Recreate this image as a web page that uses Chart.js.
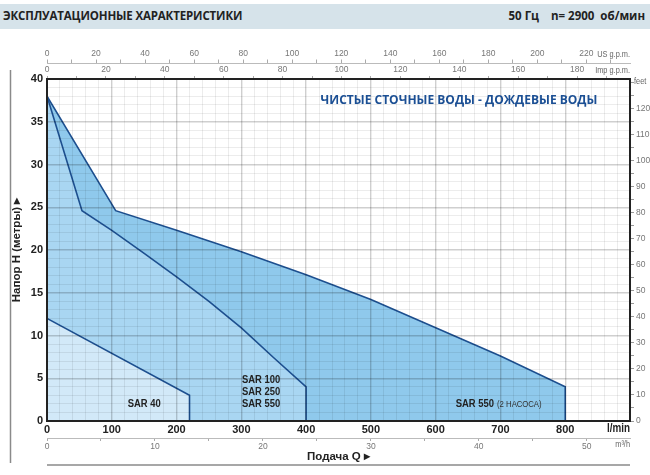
<!DOCTYPE html>
<html><head><meta charset="utf-8">
<script src="https://cdn.jsdelivr.net/npm/chart.js@4.4.1/dist/chart.umd.min.js"></script>
<style>
html,body{margin:0;padding:0;background:#fff;width:650px;height:475px;overflow:hidden;}
#hdr{position:absolute;left:0;top:4px;width:650px;height:25px;background:#d6e3ea;font-family:'Open Sans',sans-serif;font-weight:700;font-size:11.5px;color:#222;}
#hdr .l{position:absolute;left:3px;top:4px;white-space:pre;letter-spacing:-0.15px;}
#hdr .r{position:absolute;right:5px;top:4px;white-space:pre;}
#wrap{position:absolute;left:0;top:0;width:650px;height:475px;}
</style></head><body>
<div id="hdr"><span class="l">ЭКСПЛУАТАЦИОННЫЕ ХАРАКТЕРИСТИКИ</span><span class="r">50 Гц    n= 2900  об/мин</span></div>
<div id="wrap"><canvas id="c" width="650" height="475"></canvas></div>
<script>
// ---- data ----
const flowLabelsLmin = [0, 100, 200, 300, 400, 500, 600, 700, 800];
const headLabels = [0, 5, 10, 15, 20, 25, 30, 35, 40];
const feetLabels = [0, 10, 20, 30, 40, 50, 60, 70, 80, 90, 100, 110, 120];
const usGpmLabels = [0, 20, 40, 60, 80, 100, 120, 140, 160, 180, 200, 220];
const impGpmLabels = [0, 20, 40, 60, 80, 100, 120, 140, 160, 180];
const m3hLabels = [0, 10, 20, 30, 40, 50];

const sar40Flow = [0, 220, 220];
const sar40Head = [12, 3, 0];
const sar100Flow = [0, 54, 100, 150, 200, 250, 300, 350, 400, 400];
const sar100Head = [38, 24.6, 22.3, 19.6, 16.85, 14.0, 10.9, 7.4, 4, 0];
const sar550x2Flow = [0, 106, 200, 300, 400, 500, 600, 700, 800, 800];
const sar550x2Head = [38, 24.6, 22.3, 19.8, 17.1, 14.2, 10.9, 7.6, 4, 0];

const seriesNames = ['SAR 40', 'SAR 100 / SAR 250 / SAR 550', 'SAR 550 (2 НАСОСА)'];

// unit conversions
const FLOW_MAX = 900;      // l/min
const HEAD_MAX = 40;       // m
const US_PER_LMIN = 0.264172;
const IMP_PER_LMIN = 0.219969;
const M3H_PER_LMIN = 0.06;
const FT_PER_M = 3.28084;

const pts = (xs, ys) => xs.map((x, i) => ({x: x, y: ys[i]}));

const SANS = "'Liberation Sans',Arial,sans-serif";
const LINE = '#1d4f8f';
const NARROW_K = 0.82;

// draw text horizontally condensed (emulates a narrow face)
function nText(ctx, txt, x, y, align) {
  const w = ctx.measureText(txt).width * NARROW_K;
  let x0 = x;
  if (align === 'center') x0 = x - w / 2;
  else if (align === 'right') x0 = x - w;
  ctx.save();
  ctx.textAlign = 'left';
  ctx.translate(x0, y);
  ctx.scale(NARROW_K, 1);
  ctx.fillText(txt, 0, 0);
  ctx.restore();
  return w;
}

const decor = {
  id: 'decor',
  afterDraw(chart) {
    const ctx = chart.ctx, a = chart.chartArea;
    const sx = chart.scales.x, sy = chart.scales.y;
    ctx.save();
    // frame decorations
    ctx.strokeStyle = '#8a8a8a'; ctx.lineWidth = 1.5;
    ctx.beginPath(); ctx.moveTo(10.5, 70); ctx.lineTo(10.5, 463); ctx.stroke();
    ctx.beginPath(); ctx.moveTo(a.left, 465); ctx.lineTo(a.right, 465); ctx.stroke();
    // unit labels
    ctx.textBaseline = 'middle';
    ctx.fillStyle = '#666'; ctx.font = "9px " + SANS;
    nText(ctx, 'US g.p.m.', a.right, 55, 'right');
    nText(ctx, 'Imp g.p.m.', a.right, 71, 'right');
    nText(ctx, 'm³/h', a.right, 445, 'right');
    nText(ctx, 'feet', a.right + 4, 82, 'left');
    ctx.fillStyle = '#222'; ctx.font = "bold 12px " + SANS;
    nText(ctx, 'l/min', a.right, 429, 'right');
    // curve labels
    const P = (q, h) => [sx.getPixelForValue(q), sy.getPixelForValue(h)];
    ctx.font = "bold 11.5px " + SANS; ctx.fillStyle = '#222';
    let p = P(150, 2);
    nText(ctx, seriesNames[0], p[0], p[1], 'center');
    const mids = seriesNames[1].split(' / ');
    [4.8, 3.42, 2.0].forEach((h, i) => { const q = P(301, h); nText(ctx, mids[i], q[0], q[1], 'left'); });
    p = P(631, 2.05);
    const w = nText(ctx, 'SAR 550', p[0], p[1], 'left');
    ctx.font = "9.5px " + SANS; ctx.fillStyle = '#333';
    nText(ctx, '(2 НАСОСА)', p[0] + w + 3, p[1] + 0.5, 'left');
    // title inside the plot
    p = P(636, 37.45);
    ctx.font = "bold 12px 'Open Sans',sans-serif"; ctx.fillStyle = '#1b4f94'; ctx.textAlign = 'center';
    ctx.fillText('ЧИСТЫЕ СТОЧНЫЕ ВОДЫ - ДОЖДЕВЫЕ ВОДЫ', p[0], p[1]);
    ctx.restore();
  }
};

const minorMajor = (step) => (c) => (Math.abs(c.tick.value % step) < 1e-6 ? 'rgba(0,0,0,0.19)' : 'rgba(0,0,0,0.075)');
const minorMajorW = (step) => (c) => (Math.abs(c.tick.value % step) < 1e-6 ? 1.4 : 1);
const onlyLabels = (arr) => (v) => (arr.some(t => Math.abs(t - v) < 1e-6) ? String(v) : '');
const secFont = {family: SANS, size: 8.5};
const mainFont = {family: SANS, size: 11, weight: 'bold'};

new Chart(document.getElementById('c'), {
  type: 'line',
  data: {
    datasets: [
      {label: seriesNames[0], data: pts(sar40Flow, sar40Head), borderColor: LINE, borderWidth: 1.6,
       backgroundColor: '#d2e9f8', fill: 'origin', pointRadius: 0, tension: 0},
      {label: seriesNames[1], data: pts(sar100Flow, sar100Head), borderColor: LINE, borderWidth: 1.6,
       backgroundColor: '#a9d6f2', fill: 'origin', pointRadius: 0, tension: 0},
      {label: seriesNames[2], data: pts(sar550x2Flow, sar550x2Head), borderColor: LINE, borderWidth: 1.6,
       backgroundColor: '#8fc9ec', fill: 'origin', pointRadius: 0, tension: 0}
    ]
  },
  options: {
    responsive: false, animation: false, devicePixelRatio: 1,
    layout: {padding: {left: 0, right: 0, top: 45, bottom: 10}},
    plugins: {legend: {display: false}, tooltip: {enabled: false}},
    scales: {
      x: {type: 'linear', position: 'bottom', min: 0, max: FLOW_MAX, weight: 0,
          afterFit: s => { s.height = 17; },
          ticks: {stepSize: 20, autoSkip: false, maxRotation: 0, padding: 2, color: '#222', font: mainFont,
                  callback: (v) => (flowLabelsLmin.includes(v) ? String(v) : '')},
          grid: {z: 1, drawTicks: false, color: minorMajor(100), lineWidth: minorMajorW(100)},
          border: {z: 2, color: '#222', width: 2}},
      m3h: {type: 'linear', position: 'bottom', min: 0, max: FLOW_MAX * M3H_PER_LMIN, weight: 1,
          afterFit: s => { s.height = 27; },
          ticks: {stepSize: 5, includeBounds: false, autoSkip: false, maxRotation: 0, padding: 1, color: '#777', font: secFont,
                  callback: onlyLabels(m3hLabels)},
          grid: {drawOnChartArea: false, tickLength: 3, tickColor: '#aaa'},
          border: {color: '#bbb', width: 1},
          title: {display: true, text: 'Подача Q ▸', color: '#222', font: {family: SANS, size: 11.5, weight: 'bold'},
                  padding: {top: 0, bottom: 1}}},
      imp: {type: 'linear', position: 'top', min: 0, max: FLOW_MAX * IMP_PER_LMIN, weight: 0,
          afterFit: s => { s.height = 15.5; },
          ticks: {stepSize: 10, includeBounds: false, autoSkip: false, maxRotation: 0, padding: 1, color: '#777', font: secFont,
                  callback: onlyLabels(impGpmLabels)},
          grid: {drawOnChartArea: false, tickLength: 3, tickColor: '#aaa'},
          border: {z: 2, color: '#222', width: 2}},
      us: {type: 'linear', position: 'top', min: 0, max: FLOW_MAX * US_PER_LMIN, weight: 1,
          afterFit: s => { s.height = 18.5; },
          ticks: {stepSize: 10, includeBounds: false, autoSkip: false, maxRotation: 0, padding: 1, color: '#777', font: secFont,
                  callback: onlyLabels(usGpmLabels)},
          grid: {drawOnChartArea: false, tickLength: 4, tickColor: '#aaa'},
          border: {color: '#bbb', width: 1}},
      y: {type: 'linear', position: 'left', min: 0, max: HEAD_MAX,
          afterFit: s => { s.width = 47; },
          ticks: {stepSize: 1, autoSkip: false, padding: 4, color: '#222', font: mainFont,
                  callback: (v) => (headLabels.includes(v) ? String(v) : '')},
          grid: {z: 1, drawTicks: false, color: minorMajor(5), lineWidth: minorMajorW(5)},
          border: {z: 2, color: '#222', width: 2},
          title: {display: true, text: 'Напор H (метры) ▸', color: '#222', font: {family: SANS, size: 11.5, weight: 'bold'},
                  padding: {top: 10, bottom: 0}}},
      ft: {type: 'linear', position: 'right', min: 0, max: HEAD_MAX * FT_PER_M,
          afterFit: s => { s.width = 20; },
          ticks: {stepSize: 5, includeBounds: false, autoSkip: false, padding: 2, color: '#777', font: secFont,
                  callback: onlyLabels(feetLabels)},
          grid: {drawOnChartArea: false, tickLength: 4, tickColor: '#999'},
          border: {z: 2, color: '#222', width: 2}}
    }
  },
  plugins: [decor]
});
</script>
</body></html>
